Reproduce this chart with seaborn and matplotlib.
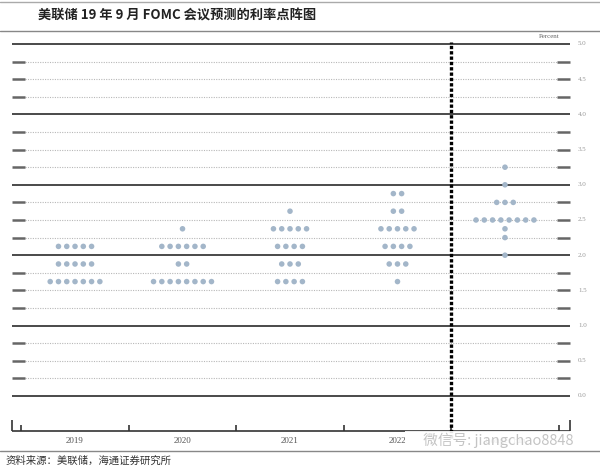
import numpy as np
import pandas as pd
import matplotlib
matplotlib.use('Agg')
import matplotlib.pyplot as plt
import seaborn as sns

sns.set_style('white')
plt.rcParams['font.family'] = ['Noto Sans CJK SC', 'DejaVu Sans']

# data
years = ['2019', '2020', '2021', '2022', 'Longer run']
rates_2019 = [1.625, 1.875, 2.125]
counts_2019 = [7, 5, 5]
rates_2020 = [1.625, 1.875, 2.125, 2.375]
counts_2020 = [8, 2, 6, 1]
rates_2021 = [1.625, 1.875, 2.125, 2.375, 2.625]
counts_2021 = [4, 3, 4, 5, 1]
rates_2022 = [1.625, 1.875, 2.125, 2.375, 2.625, 2.875]
counts_2022 = [1, 3, 4, 5, 2, 2]
rates_lr = [2.0, 2.25, 2.375, 2.5, 2.75, 3.0, 3.25]
counts_lr = [1, 1, 1, 8, 3, 1, 1]
y_labels = ['0.0', '0.5', '1.0', '1.5', '2.0', '2.5', '3.0', '3.5', '4.0', '4.5', '5.0']

all_rates = [rates_2019, rates_2020, rates_2021, rates_2022, rates_lr]
all_counts = [counts_2019, counts_2020, counts_2021, counts_2022, counts_lr]

step = 0.077
rows = []
for i, (rs, cs) in enumerate(zip(all_rates, all_counts)):
    for r, c in zip(rs, cs):
        for k in range(c):
            rows.append({'x': i + (k - (c - 1) / 2) * step, 'rate': r})
df = pd.DataFrame(rows)

fig = plt.figure(figsize=(6, 4.68), dpi=100)
ax = fig.add_axes([0, 0, 1, 1])
ax.set_xlim(-0.698, 4.884)
ax.set_ylim(-1.023, 5.625)
ax.axis('off')

x0, x1 = -0.586, 4.605
end = 0.12
levels = np.arange(0, 5.01, 0.25)
for lv in levels:
    if abs(lv - round(lv)) < 1e-9:
        ax.hlines(lv, x0, x1, color='#4a4a4a', lw=1.4, zorder=1)
    else:
        ax.hlines(lv, x0 + end, x1 - end, color='#b8b8b8', lw=0.8,
                  linestyles=(0, (1, 1.2)), zorder=1)
        ax.hlines(lv, x0, x0 + end, color='#666666', lw=1.8, zorder=1)
        ax.hlines(lv, x1 - end, x1, color='#666666', lw=1.8, zorder=1)

for v, lab in zip(np.arange(0, 5.01, 0.5), y_labels):
    ax.text(4.72, v, lab, ha='center', va='center', fontsize=5,
            color='#999999', family='Liberation Serif')
ax.text(4.41, 5.11, 'Percent', ha='center', va='center', fontsize=5,
        color='#666666', family='Liberation Serif')

sns.scatterplot(data=df, x='x', y='rate', ax=ax, s=16, color='#a3b6c9',
                edgecolor='none', zorder=3, legend=False)

# vertical separator before longer run
ax.vlines(3.5, -0.6, 5.03, color='black', lw=2.4, linestyles=(0, (1, 0.6)), zorder=4)

# bottom axis
base = -0.497
ax.hlines(base, x0, x1, color='#333333', lw=1.2)
for b in np.arange(-0.5, 4.6, 1.0):
    ax.vlines(b, base, base + 0.08, color='#333333', lw=1.2)
for b in (x0, x1):
    ax.vlines(b, base, base + 0.15, color='#333333', lw=1.2)
for i, yr in enumerate(years):
    ax.text(i, -0.64, yr, ha='center', va='center', fontsize=6.5,
            color='#555555', family='Liberation Serif')

# watermark covering the last labels, as in the source image
ax.text(3.86, -0.63, '     微信号: jiangchao8848', ha='center', va='center',
        fontsize=10.5, color='#c4c4c4', zorder=6,
        bbox=dict(facecolor='white', edgecolor='none', alpha=0.9, pad=1))

# header and footer
fig.add_artist(plt.Line2D([0, 1], [1 - 2 / 468, 1 - 2 / 468], color='#aaaaaa', lw=1))
fig.add_artist(plt.Line2D([0, 1], [1 - 31 / 468, 1 - 31 / 468], color='#888888', lw=1))
fig.add_artist(plt.Line2D([0, 1], [1 - 451 / 468, 1 - 451 / 468], color='#888888', lw=1))
fig.text(38 / 600, 1 - 16 / 468, '美联储 19 年 9 月 FOMC 会议预测的利率点阵图',
         ha='left', va='center', fontsize=9.5, fontweight='bold', color='#222222')
fig.text(6 / 600, 1 - 461 / 468, '资料来源：美联储，海通证券研究所',
         ha='left', va='center', fontsize=7.5, color='#333333')

fig.savefig('out.png', dpi=100)
